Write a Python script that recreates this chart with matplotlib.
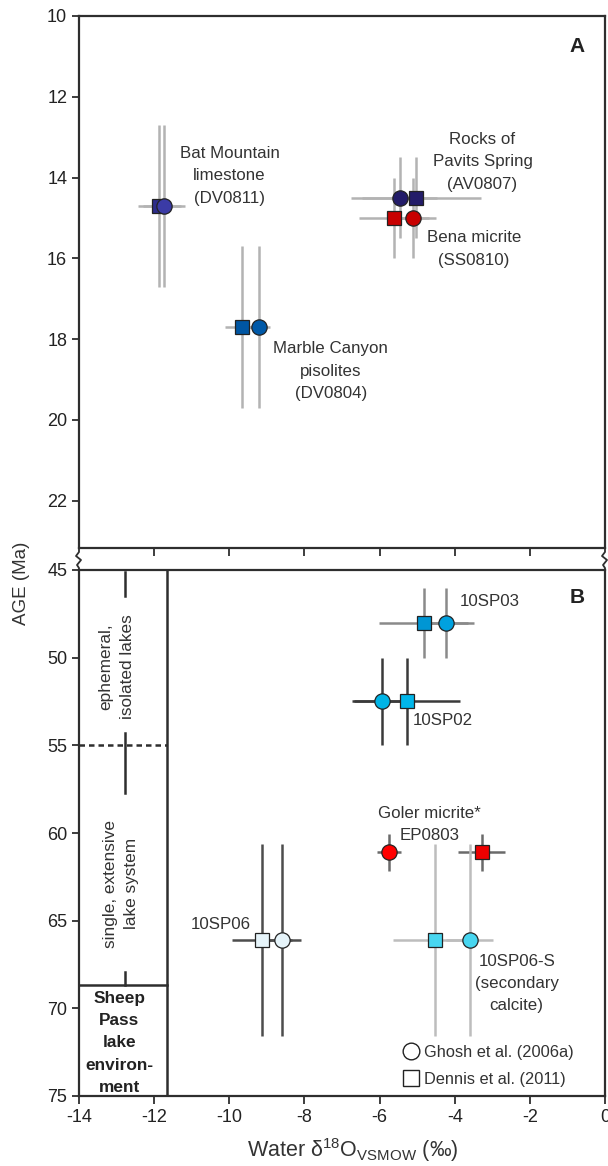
import matplotlib
matplotlib.use("Agg")
import matplotlib.pyplot as plt
from matplotlib.lines import Line2D

plt.rcParams['font.family'] = ['Liberation Sans', 'DejaVu Sans']
plt.rcParams['mathtext.fontset'] = 'custom'
plt.rcParams['mathtext.rm'] = 'Liberation Sans'
plt.rcParams['mathtext.it'] = 'Liberation Sans:italic'
plt.rcParams['axes.unicode_minus'] = False

dark = '#2e2e2e'

# Panel A (Miocene samples)
circle_x_a = [-11.74, -5.46, -5.10, -9.22]
circle_xerr_a = [0.56, 1.00, 0.61, 0.30]
square_x_a = [-11.86, -5.04, -5.62, -9.67]
square_xerr_a = [0.58, 1.73, 0.94, 0.44]
age_a = [14.7, 14.5, 15.0, 17.7]
age_err_a = [2.0, 1.0, 1.0, 2.0]
circle_col_a = ['#3b3ba6', '#231c69', '#c80000', '#0059a8']
square_col_a = ['#2d2c8a', '#231c69', '#c80000', '#0056a3']
bar_col_a = ['#b3b3b3', '#b3b3b3', '#b3b3b3', '#b3b3b3']

# Panel B (Eocene / Paleocene samples)
circle_x_b = [-4.23, -5.93, -5.75, -8.61, -3.60]
circle_xerr_b = [0.73, 0.81, 0.33, 0.51, 0.63]
square_x_b = [-4.83, -5.27, -3.28, -9.13, -4.53]
square_xerr_b = [1.19, 1.40, 0.63, 0.80, 1.12]
age_b = [48.0, 52.5, 61.1, 66.1, 66.1]
age_err_b = [2.0, 2.5, 1.05, 5.45, 5.45]
circle_col_b = ['#00a1df', '#00b4e6', '#ff0000', '#e6f4fa', '#48d6f0']
square_col_b = ['#0096d4', '#00b6ea', '#ee0000', '#e6f4fa', '#48d6f0']
bar_col_b = ['#8a8a8a', '#3a3a3a', '#6a6a6a', '#4d4d4d', '#bdbdbd']

xticks = [-14, -12, -10, -8, -6, -4, -2, 0]
yticks_a = [10, 12, 14, 16, 18, 20, 22]
yticks_b = [45, 50, 55, 60, 65, 70, 75]

W, H = 608, 1166
fig = plt.figure(figsize=(W / 100, H / 100), dpi=100)
ax_a = fig.add_axes([79 / W, 1 - 548 / H, 526 / W, 532 / H])
ax_b = fig.add_axes([79 / W, 1 - 1096 / H, 526 / W, 526 / H])


def draw_points(ax, cx, cxe, sx, sxe, y, ye, ccol, scol, bcol):
    for i in range(len(y)):
        ax.errorbar(sx[i], y[i], xerr=sxe[i], yerr=ye[i], fmt='none',
                    ecolor=bcol[i], elinewidth=1.8, capsize=0, zorder=2)
        ax.errorbar(cx[i], y[i], xerr=cxe[i], yerr=ye[i], fmt='none',
                    ecolor=bcol[i], elinewidth=1.8, capsize=0, zorder=2)
    for i in range(len(y)):
        ax.plot(sx[i], y[i], marker='s', ms=10.5, mfc=scol[i], mec='#222222',
                mew=0.9, ls='none', zorder=3)
        ax.plot(cx[i], y[i], marker='o', ms=11, mfc=ccol[i], mec='#222222',
                mew=0.9, ls='none', zorder=4)


draw_points(ax_a, circle_x_a, circle_xerr_a, square_x_a, square_xerr_a,
            age_a, age_err_a, circle_col_a, square_col_a, bar_col_a)
draw_points(ax_b, circle_x_b, circle_xerr_b, square_x_b, square_xerr_b,
            age_b, age_err_b, circle_col_b, square_col_b, bar_col_b)

for ax in (ax_a, ax_b):
    ax.set_xlim(-14, 0)
    for s in ax.spines.values():
        s.set_color(dark)
        s.set_linewidth(1.6)
    ax.tick_params(axis='y', direction='out', length=5, width=1.3,
                   colors=dark, labelsize=13, labelcolor='#222222')

ax_a.set_ylim(23.17, 10)
ax_a.set_yticks(yticks_a)
ax_a.set_xticks(xticks[1:-1])
ax_a.tick_params(axis='x', direction='out', length=6, width=1.3,
                 colors=dark, labelbottom=False)

ax_b.set_ylim(75, 45)
ax_b.set_yticks(yticks_b)
ax_b.set_xticks(xticks)
ax_b.tick_params(axis='x', direction='out', length=6, width=1.3,
                 colors=dark, labelsize=13, labelcolor='#222222')

# panel letters
ax_a.text(0.947, 0.942, 'A', transform=ax_a.transAxes, fontsize=15,
          fontweight='bold', ha='center', va='center', color='#222222')
ax_b.text(0.947, 0.947, 'B', transform=ax_b.transAxes, fontsize=15,
          fontweight='bold', ha='center', va='center', color='#222222')

# sample labels
tk = dict(fontsize=12.2, color='#333333', linespacing=1.6)
ax_a.text(-9.99, 13.96, 'Bat Mountain\nlimestone\n(DV0811)', ha='center', va='center', **tk)
ax_a.text(-3.26, 13.61, 'Rocks of\nPavits Spring\n(AV0807)', ha='center', va='center', **tk)
ax_a.text(-3.49, 15.77, 'Bena micrite\n(SS0810)', ha='center', va='center', **tk)
ax_a.text(-7.30, 18.79, 'Marble Canyon\npisolites\n(DV0804)', ha='center', va='center', **tk)
ax_b.text(-3.87, 46.8, '10SP03', ha='left', va='center', **tk)
ax_b.text(-5.12, 53.6, '10SP02', ha='left', va='center', **tk)
ax_b.text(-4.68, 59.5, 'Goler micrite*\nEP0803', ha='center', va='center', **tk)
ax_b.text(-10.22, 65.2, '10SP06', ha='center', va='center', **tk)
ax_b.text(-2.35, 68.6, '10SP06-S\n(secondary\ncalcite)', ha='center', va='center', **tk)

# lake environment column
box_x = -11.65
seg_x = -12.78
ax_b.plot([box_x, box_x], [45, 75], color=dark, lw=1.8, zorder=1)
ax_b.plot([-14, box_x], [55, 55], color=dark, lw=1.8, ls=(0, (2.2, 1.6)))
ax_b.plot([-14, box_x], [68.65, 68.65], color=dark, lw=1.8)
for y0, y1 in [(45.1, 46.5), (54.3, 57.7), (67.9, 68.65)]:
    ax_b.plot([seg_x, seg_x], [y0, y1], color=dark, lw=1.8)
ax_b.text(-13.0, 50.5, 'ephemeral,\nisolated lakes', rotation=90, ha='center',
          va='center', fontsize=12.4, color='#333333', linespacing=1.5)
ax_b.text(-12.88, 62.9, 'single, extensive\nlake system', rotation=90, ha='center',
          va='center', fontsize=12.4, color='#333333', linespacing=1.5)
ax_b.text(-12.93, 71.97, 'Sheep\nPass\nlake\nenviron-\nment', ha='center',
          va='center', fontsize=12.4, fontweight='bold', color='#222222',
          linespacing=1.6)

# legend
handles = [Line2D([], [], marker='o', ls='none', ms=12, mfc='white', mec='#222222', mew=1.0),
           Line2D([], [], marker='s', ls='none', ms=11, mfc='white', mec='#222222', mew=1.0)]
ax_b.legend(handles, ['Ghosh et al. (2006a)', 'Dennis et al. (2011)'],
            loc='upper left', bbox_to_anchor=(0.6, 0.113), frameon=False,
            fontsize=11.8, handlelength=1.0, handletextpad=0.3,
            labelspacing=0.75, borderpad=0, labelcolor='#333333')

# axis titles
fig.text(22 / W, 1 - 583 / H, 'AGE (Ma)', rotation=90, ha='center', va='center',
         fontsize=13.5, color='#333333')
fig.text(353 / W, 1 - 1150 / H,
         r'Water δ$^{\mathrm{18}}$O$_{\mathrm{VSMOW}}$ (‰)',
         ha='center', va='center', fontsize=15.5, color='#333333')

# broken-axis zigzags between the panels
for xp in (79, 605):
    zx = [xp, xp, xp - 3, xp + 2, xp - 2, xp, xp]
    zy = [548, 552, 556, 560, 565, 568, 570]
    fig.add_artist(Line2D([v / W for v in zx], [1 - v / H for v in zy],
                          color=dark, lw=1.3, transform=fig.transFigure))

fig.savefig('out.png', dpi=100)
